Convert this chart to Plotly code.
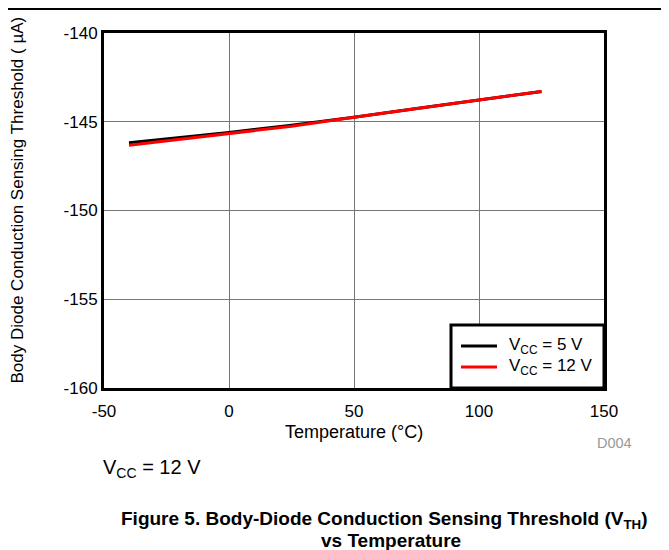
import plotly.graph_objects as go

# ---- data ----
temperature_c = [-40, -20, 0, 25, 50, 75, 100, 125]
vth_vcc5 = [-146.18, -145.90, -145.60, -145.20, -144.75, -144.25, -143.77, -143.30]
vth_vcc12 = [-146.33, -146.00, -145.68, -145.25, -144.75, -144.25, -143.77, -143.30]
series_names = ["V<sub>CC</sub> = 5 V", "V<sub>CC</sub> = 12 V"]
series_colors = ["black", "#ff0000"]
x_ticks = [-50, 0, 50, 100, 150]
y_ticks = [-160, -155, -150, -145, -140]

FONT = "Liberation Sans, Arial, sans-serif"
OFF = 8  # page body margin
W, H = 669 - OFF, 550 - OFF
# plot area in page pixels
PL, PR, PT, PB = 104, 604, 33, 388
L, R, T, B = PL - OFF, PR - OFF, PT - OFF, PB - OFF

fig = go.Figure()
for xs, ys, nm, col in [(temperature_c, vth_vcc5, series_names[0], series_colors[0]),
                        (temperature_c, vth_vcc12, series_names[1], series_colors[1])]:
    fig.add_trace(go.Scatter(x=xs, y=ys, mode="lines", name=nm,
                             line=dict(color=col, width=3), showlegend=False))


def px_x(p):  # page pixel -> paper
    return (p - PL) / (PR - PL)


def px_y(p):
    return (PB - p) / (PB - PT)


fig.update_layout(
    width=W, height=H,
    margin=dict(l=L, r=W - R, t=T, b=H - B, pad=0),
    paper_bgcolor="white", plot_bgcolor="white",
    font=dict(family=FONT, size=17, color="black"),
    showlegend=False,
    xaxis=dict(range=[-50, 150], tickvals=x_ticks, ticktext=[str(v) for v in x_ticks],
               showgrid=True, gridcolor="#777777", gridwidth=1,
               showline=True, linecolor="black", linewidth=3, mirror=True,
               ticks="", zeroline=False, ticklabelstandoff=6),
    yaxis=dict(range=[-160, -140], tickvals=y_ticks, ticktext=[str(v) for v in y_ticks],
               showgrid=True, gridcolor="#777777", gridwidth=1,
               showline=True, linecolor="black", linewidth=3, mirror=True,
               ticks="", zeroline=False, ticklabelstandoff=0),
)

annos = [
    dict(text="Temperature (°C)", x=px_x(354), y=px_y(432), font=dict(size=18)),
    dict(text="Body Diode Conduction Sensing Threshold ( µA)", x=px_x(16.5), y=px_y(200),
         textangle=-90, font=dict(size=17), borderpad=0),
    dict(text="D004", x=px_x(614), y=px_y(443), font=dict(size=14.5, color="#999999")),
    dict(text="V<sub>CC</sub> = 12 V", x=px_x(101), y=px_y(468), xanchor="left",
         font=dict(size=20)),
    dict(text="<b>Figure 5. Body-Diode Conduction Sensing Threshold (V<sub>TH</sub>)</b>",
         x=px_x(384), y=px_y(520), font=dict(size=19)),
    dict(text="<b>vs Temperature</b>", x=px_x(391), y=px_y(540), font=dict(size=19)),
]

# legend (drawn manually to match box geometry)
LEG_L, LEG_T, LEG_R, LEG_B = 451, 325, 604, 388
leg_rows_y = [346, 367]
fig.add_shape(type="rect", xref="paper", yref="paper",
              x0=px_x(LEG_L), x1=px_x(LEG_R), y0=px_y(LEG_B), y1=px_y(LEG_T),
              line=dict(color="black", width=3), fillcolor="white", layer="above")
for nm, col, yy in zip(series_names, series_colors, leg_rows_y):
    fig.add_shape(type="line", xref="paper", yref="paper",
                  x0=px_x(461), x1=px_x(497), y0=px_y(yy), y1=px_y(yy),
                  line=dict(color=col, width=3), layer="above")
    annos.append(dict(text=nm, x=px_x(507), y=px_y(yy), xanchor="left",
                      font=dict(size=17)))

for a in annos:
    a.setdefault("xanchor", "center")
    fig.add_annotation(xref="paper", yref="paper", showarrow=False, yanchor="middle", **a)

# page frame lines
fig.add_shape(type="line", xref="paper", yref="paper", x0=px_x(0), x1=px_x(664),
              y0=px_y(9), y1=px_y(9), line=dict(color="black", width=2))
fig.add_shape(type="line", xref="paper", yref="paper", x0=px_x(664), x1=px_x(664),
              y0=px_y(9), y1=px_y(560), line=dict(color="black", width=2))

fig.write_html("out.html")
